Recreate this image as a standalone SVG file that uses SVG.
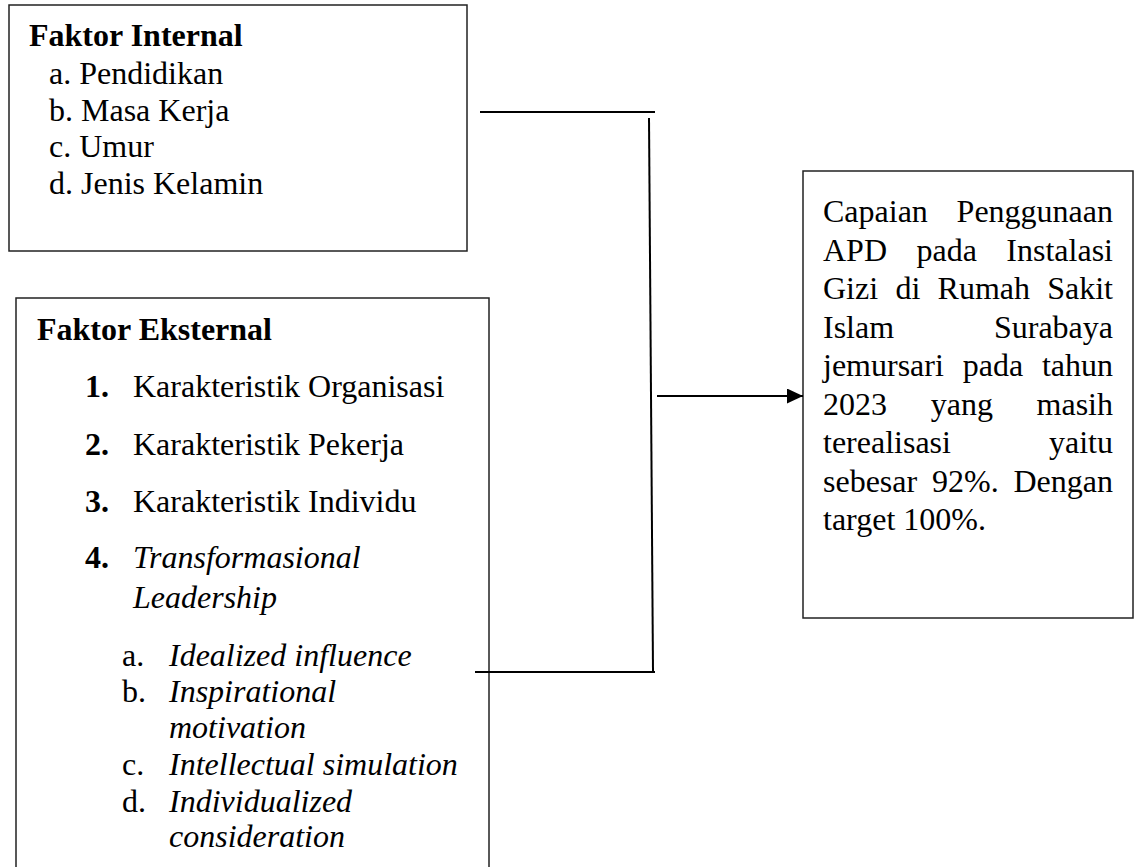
<svg xmlns="http://www.w3.org/2000/svg" width="1136" height="867" viewBox="0 0 1136 867">
<style>
.box{fill:#fff;stroke:#222;stroke-width:1.5}
.t{font-family:"Liberation Serif","Times New Roman",serif;font-size:32px;fill:#000}
.b{font-weight:bold}
.i{font-style:italic}
.e{text-anchor:end}
.c{stroke:#000;stroke-width:2;fill:none}
</style>
<defs>
<marker id="ah" markerWidth="16" markerHeight="15" refX="16" refY="7.5" orient="auto" markerUnits="userSpaceOnUse">
<path d="M0,0 L16,7.5 L0,15 Z" fill="#000"/>
</marker>
</defs>
<rect width="1136" height="867" fill="#fff"/>
<g id="internal">
<rect class="box" x="9" y="5" width="458" height="246"/>
<text class="t b" x="29" y="46">Faktor Internal</text>
<text class="t" x="49" y="84">a. Pendidikan</text>
<text class="t" x="49" y="121">b. Masa Kerja</text>
<text class="t" x="49" y="157">c. Umur</text>
<text class="t" x="49" y="194">d. Jenis Kelamin</text>
</g>
<g id="eksternal">
<rect class="box" x="16" y="298" width="473" height="600"/>
<text class="t b" x="37" y="340">Faktor Eksternal</text>
<text class="t b" x="85" y="397">1.</text><text class="t" x="133" y="397">Karakteristik Organisasi</text>
<text class="t b" x="85" y="455">2.</text><text class="t" x="133" y="455">Karakteristik Pekerja</text>
<text class="t b" x="85" y="512">3.</text><text class="t" x="133" y="512">Karakteristik Individu</text>
<text class="t b" x="85" y="568">4.</text><text class="t i" x="133" y="568">Transformasional</text>
<text class="t i" x="133" y="608">Leadership</text>
<text class="t" x="122" y="666">a.</text><text class="t i" x="169" y="666">Idealized influence</text>
<text class="t" x="122" y="702">b.</text><text class="t i" x="169" y="702">Inspirational</text>
<text class="t i" x="169" y="738">motivation</text>
<text class="t" x="122" y="775">c.</text><text class="t i" x="169" y="775">Intellectual simulation</text>
<text class="t" x="122" y="812">d.</text><text class="t i" x="169" y="812">Individualized</text>
<text class="t i" x="169" y="847">consideration</text>
</g>
<g id="capaian">
<rect class="box" x="803" y="171" width="330" height="447"/>
<text class="t" x="823" y="222">Capaian</text><text class="t e" x="1113" y="222">Penggunaan</text>
<text class="t" x="823" y="260.5">APD</text><text class="t" x="916.5" y="260.5">pada</text><text class="t e" x="1113" y="260.5">Instalasi</text>
<text class="t" x="823" y="299">Gizi</text><text class="t" x="895.4" y="299">di</text><text class="t" x="937.6" y="299">Rumah</text><text class="t e" x="1113" y="299">Sakit</text>
<text class="t" x="823" y="337.5">Islam</text><text class="t e" x="1113" y="337.5">Surabaya</text>
<text class="t" x="823" y="376">jemursari</text><text class="t" x="962.7" y="376">pada</text><text class="t e" x="1113" y="376">tahun</text>
<text class="t" x="823" y="414.5">2023</text><text class="t" x="930.7" y="414.5">yang</text><text class="t e" x="1113" y="414.5">masih</text>
<text class="t" x="823" y="453">terealisasi</text><text class="t e" x="1113" y="453">yaitu</text>
<text class="t" x="823" y="491.5">sebesar</text><text class="t" x="932" y="491.5">92%.</text><text class="t e" x="1113" y="491.5">Dengan</text>
<text class="t" x="823" y="530">target 100%.</text>
</g>
<g id="connectors">
<line class="c" x1="480" y1="112" x2="655" y2="112"/>
<line class="c" x1="649" y1="118" x2="653" y2="672"/>
<line class="c" x1="475" y1="672" x2="655" y2="672"/>
<line class="c" x1="657" y1="396" x2="803" y2="396" marker-end="url(#ah)"/>
</g>
</svg>
